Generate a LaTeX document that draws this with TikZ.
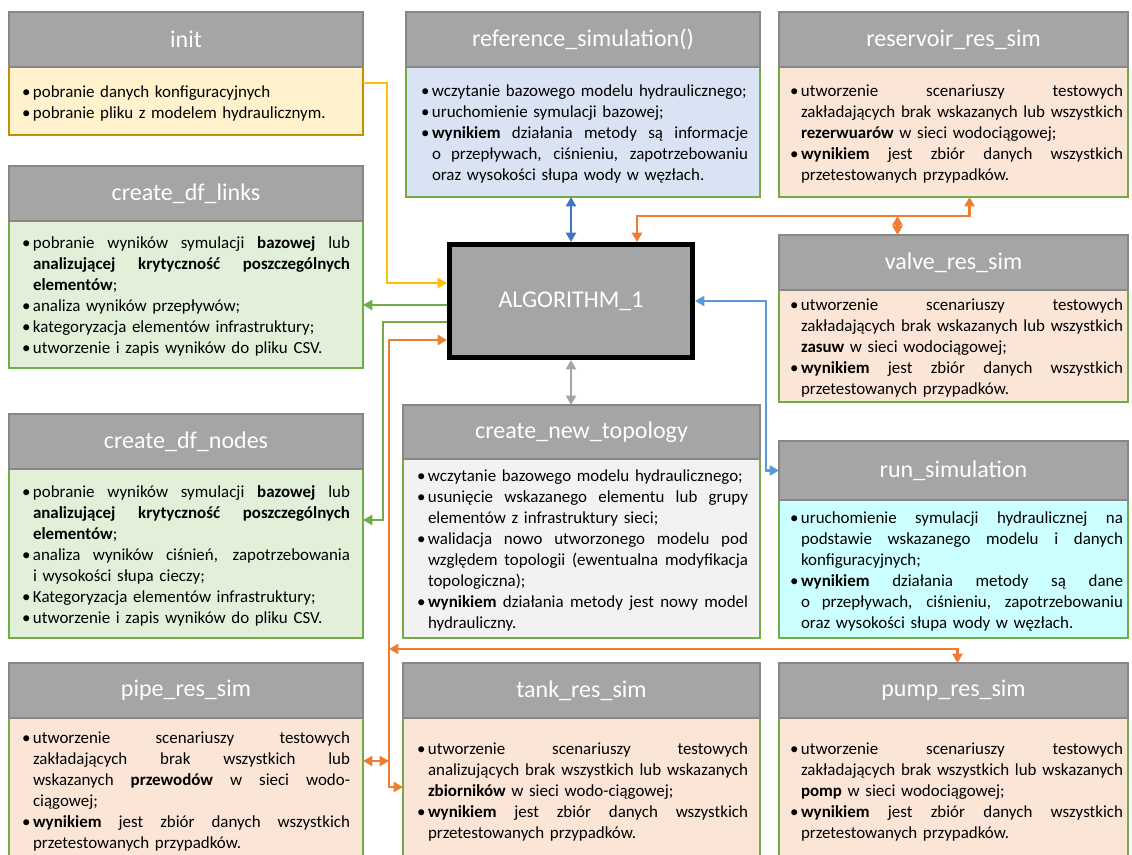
\documentclass[tikz,border=0pt]{standalone}
\usepackage{fontspec}
\setmainfont{Carlito}
\usetikzlibrary{arrows.meta,calc}
\definecolor{hdrfill}{HTML}{A5A5A5}
\definecolor{hdrline}{HTML}{878787}
\definecolor{grnline}{HTML}{70AD47}
\definecolor{yelline}{HTML}{BF9000}
\definecolor{fyel}{HTML}{FFF2CC}
\definecolor{fblu}{HTML}{DAE3F3}
\definecolor{fpea}{HTML}{FBE5D6}
\definecolor{fgrn}{HTML}{E2F0D9}
\definecolor{fgry}{HTML}{F2F2F2}
\definecolor{fcya}{HTML}{CCFFFF}
\definecolor{cyel}{HTML}{FFC000}
\definecolor{cgrn}{HTML}{70AD47}
\definecolor{corg}{HTML}{ED7D31}
\definecolor{cblu}{HTML}{4472C4}
\definecolor{cblb}{HTML}{5B9BD5}
\definecolor{cgry}{HTML}{A5A5A5}
\newlength\bw \setlength\bw{8.25pt}
\newlength\lw
\newcommand\jline[1]{\hbox to\lw{\spaceskip=\fontdimen2\font plus 1fil minus \fontdimen4\font\relax #1}}
\newcommand\BJ[1]{\noindent\hbox to\bw{\textbullet\hss}\jline{#1}\par}
\newcommand\BL[1]{\noindent\hbox to\bw{\textbullet\hss}#1\par}
\newcommand\CJ[1]{\noindent\hspace*{\bw}\jline{#1}\par}
\newcommand\CL[1]{\noindent\hspace*{\bw}#1\par}
\def\LM{13}\def\RM{13}
\newcommand\margins[2]{\def\LM{#1}\def\RM{#2}}
\newcommand\mkbox[9]{%
 \pgfmathsetmacro\bxw{(#3-#2)*0.75}%
 \pgfmathsetmacro\bxtw{(#3-#2-\LM-\RM)*0.75}%
 \pgfmathsetmacro\bxtx{#2+\LM+(#3-#2-\LM-\RM)/2}%
 \pgfmathsetmacro\bxhh{(#5-#4)*0.75}%
 \pgfmathsetmacro\bxbh{(#6-#5)*0.75}%
 \setlength\lw{\bxtw pt}\addtolength\lw{-\bw}%
 \node[body,#8,minimum width=\bxw pt,minimum height=\bxbh pt] (#1b) at ({(#2+#3)/2},{(#5+#6)/2}) {};
 \node[bodytext,text width=\bxtw pt] (#1t) at (\bxtx,{(#5+#6)/2+2}) {#9};
 \node[hdr,minimum width=\bxw pt,minimum height=\bxhh pt] (#1h) at ({(#2+#3)/2},{(#4+#5)/2}) {#7};
}
\tikzset{
 hdr/.style={draw=hdrline, fill=hdrfill, line width=1pt, text=white, font=\fontsize{18}{21}\selectfont, inner sep=0pt, outer sep=0pt},
 body/.style={draw=grnline, line width=1pt, inner sep=0pt, outer sep=0pt},
 bodytext/.style={inner sep=0pt, outer sep=0pt, font=\fontsize{12.7}{15.75}\selectfont, text=black},
 algbox/.style={draw=black, line width=3.6pt, fill=hdrfill, text=white, font=\fontsize{18}{21}\selectfont, minimum width=182.4pt, minimum height=84.9pt, inner sep=0pt},
 conn/.style={line width=1.9pt, arrows={-Triangle[length=7pt,width=7.5pt]}},
 conntwo/.style={line width=1.9pt, arrows={Triangle[length=7pt,width=7.5pt]-Triangle[length=7pt,width=7.5pt]}},
}
\begin{document}
\begin{tikzpicture}[x=0.75pt,y=-0.75pt]
\useasboundingbox[fill=white] (0,0) rectangle (1132,855);

\margins{13}{13}
\mkbox{init}{9}{363}{12}{67}{135}{init}{draw=yelline,fill=fyel}{%
\BL{pobranie danych konfiguracyjnych}
\BL{pobranie pliku z modelem hydraulicznym.}}

\mkbox{links}{9}{363}{166}{221}{368}{create\_df\_links}{fill=fgrn}{%
\BJ{pobranie wyników symulacji \textbf{bazowej} lub}
\CJ{\textbf{analizującej krytyczność poszczególnych}}
\CL{\textbf{elementów};}
\BL{analiza wyników przepływów;}
\BL{kategoryzacja elementów infrastruktury;}
\BL{utworzenie i zapis wyników do pliku CSV.}}

\mkbox{nodes}{9}{363}{414}{469}{638}{create\_df\_nodes}{fill=fgrn}{%
\BJ{pobranie wyników symulacji \textbf{bazowej} lub}
\CJ{\textbf{analizującej krytyczność poszczególnych}}
\CL{\textbf{elementów};}
\BJ{analiza wyników ciśnień, zapotrzebowania}
\CL{i wysokości słupa cieczy;}
\BL{Kategoryzacja elementów infrastruktury;}
\BL{utworzenie i zapis wyników do pliku CSV.}}

\mkbox{pipe}{9}{363}{663}{718}{861}{pipe\_res\_sim}{fill=fpea}{%
\BJ{utworzenie scenariuszy testowych}
\CJ{zakładających brak wszystkich lub}
\CJ{wskazanych \textbf{przewodów} w sieci wodo-}
\CL{ciągowej;}
\BJ{\textbf{wynikiem} jest zbiór danych wszystkich}
\CL{przetestowanych przypadków.}}

\margins{15}{12}
\mkbox{ref}{406}{760}{12}{67}{197}{reference\_simulation()}{fill=fblu}{%
\BL{wczytanie bazowego modelu hydraulicznego;}
\BL{uruchomienie symulacji bazowej;}
\BJ{\textbf{wynikiem} działania metody są informacje}
\CJ{o przepływach, ciśnieniu, zapotrzebowaniu}
\CL{oraz wysokości słupa wody w węzłach.}}

\margins{14}{12}
\mkbox{topo}{403}{760}{405}{459}{638}{create\_new\_topology}{fill=fgry}{%
\BL{wczytanie bazowego modelu hydraulicznego;}
\BJ{usunięcie wskazanego elementu lub grupy}
\CL{elementów z infrastruktury sieci;}
\BJ{walidacja nowo utworzonego modelu pod}
\CJ{względem topologii (ewentualna modyfikacja}
\CL{topologiczna);}
\BJ{\textbf{wynikiem} działania metody jest nowy model}
\CL{hydrauliczny.}}

\mkbox{tank}{403}{760}{663}{718}{861}{tank\_res\_sim}{fill=fpea}{%
\BJ{utworzenie scenariuszy testowych}
\CJ{analizujących brak wszystkich lub wskazanych}
\CL{\textbf{zbiorników} w sieci wodo-ciągowej;}
\BJ{\textbf{wynikiem} jest zbiór danych wszystkich}
\CL{przetestowanych przypadków.}}

\margins{11}{5}
\mkbox{res}{779}{1128}{12}{67}{197}{reservoir\_res\_sim}{fill=fpea}{%
\BJ{utworzenie scenariuszy testowych}
\CJ{zakładających brak wskazanych lub wszystkich}
\CL{\textbf{rezerwuarów} w sieci wodociągowej;}
\BJ{\textbf{wynikiem} jest zbiór danych wszystkich}
\CL{przetestowanych przypadków.}}

\mkbox{valve}{779}{1128}{235}{290}{402}{valve\_res\_sim}{fill=fpea}{%
\BJ{utworzenie scenariuszy testowych}
\CJ{zakładających brak wskazanych lub wszystkich}
\CL{\textbf{zasuw} w sieci wodociągowej;}
\BJ{\textbf{wynikiem} jest zbiór danych wszystkich}
\CL{przetestowanych przypadków.}}

\mkbox{run}{779}{1128}{441}{500}{638}{run\_simulation}{fill=fcya}{%
\BJ{uruchomienie symulacji hydraulicznej na}
\CJ{podstawie wskazanego modelu i danych}
\CL{konfiguracyjnych;}
\BJ{\textbf{wynikiem} działania metody są dane}
\CJ{o przepływach, ciśnieniu, zapotrzebowaniu}
\CL{oraz wysokości słupa wody w węzłach.}}

\mkbox{pump}{779}{1128}{663}{718}{861}{pump\_res\_sim}{fill=fpea}{%
\BJ{utworzenie scenariuszy testowych}
\CJ{zakładających brak wszystkich lub wskazanych}
\CL{\textbf{pomp} w sieci wodociągowej;}
\BJ{\textbf{wynikiem} jest zbiór danych wszystkich}
\CL{przetestowanych przypadków.}}

\node[algbox] (alg) at (571,301) {ALGORITHM\_1};

% connectors
\draw[conn, cyel] ($(initb.north east)+(0,16)$) -- ++(24,0) |- ($(alg.north west)+(0,41)$);
\coordinate (g1) at ($(alg.north west)+(0,63)$);
\draw[conn, cgrn] (g1) -- (linksb.east |- g1);
\draw[conn, cgrn] ($(alg.north west)+(0,80)$) -| ($(nodesb.north east)+(20,51)$) -- ($(nodesb.north east)+(0,51)$);
\draw[conntwo, corg] ($(alg.north west)+(0,98)$) -| ($(tankb.north west)+(-14,69)$) -- ($(tankb.north west)+(0,69)$);
\draw[conntwo, corg] ($(pipeb.north east)+(0,43)$) -- ++(26,0);
\draw[conntwo, corg] ($(tankh.north west)+(-14,-14)$) -| ($(pumph.north)+(4,0)$);
\draw[conntwo, corg] ($(alg.north)+(66,0)$) |- ($(resb.south)+(16,19)$) -- ($(resb.south)+(16,0)$);
\draw[conntwo, corg] ($(valveh.north)+(-56,0)$) -- ++(0,-19);
\draw[conntwo, cblu] (alg.north) -- (alg.north |- refb.south);
\draw[conntwo, cblb] (alg.east) -| ($(runh.west)+(-13,0)$) -- (runh.west);
\draw[conntwo, cgry] (alg.south) -- (alg.south |- topoh.north);
\end{tikzpicture}
\end{document}
